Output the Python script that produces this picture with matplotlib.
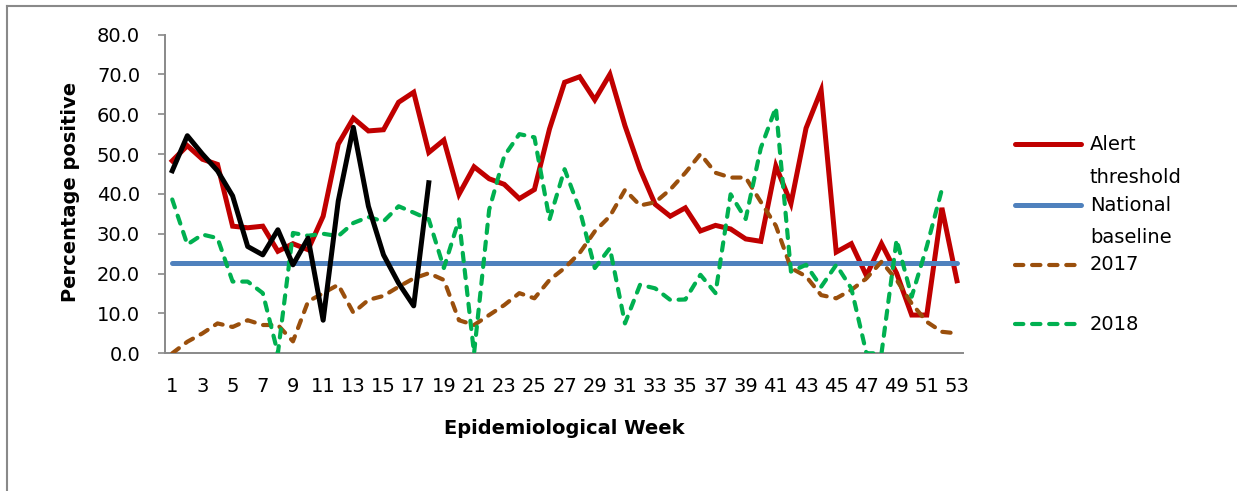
import matplotlib
matplotlib.use("Agg")
import matplotlib.pyplot as plt
from matplotlib.lines import Line2D
import numpy as np

plt.rcParams['font.family'] = ['DejaVu Sans']

weeks = list(range(1, 54))
alert_threshold = [48.3, 52.1, 48.7, 47.4, 31.9, 31.5, 31.9, 25.6, 27.5, 26.0,
                   34.4, 52.5, 59.0, 55.8, 56.1, 63.0, 65.5, 50.4, 53.5, 39.9,
                   46.8, 43.8, 42.4, 38.8, 41.1, 56.3, 68.0, 69.4, 63.6, 70.0,
                   57.1, 46.2, 37.4, 34.4, 36.5, 30.7, 32.1, 31.2, 28.7, 28.1,
                   47.0, 37.6, 56.5, 66.0, 25.4, 27.5, 19.5, 27.5, 20.1, 9.6,
                   9.6, 36.5, 18.2]
national_baseline = [22.6] * 53
y2017 = [0.0, 2.9, 5.0, 7.5, 6.6, 8.3, 7.1, 7.1, 3.0, 13.0,
         15.1, 17.2, 10.2, 13.4, 14.4, 16.7, 18.8, 20.1, 18.4, 8.3,
         7.1, 9.6, 12.1, 15.1, 13.8, 18.4, 21.4, 25.2, 30.6, 34.4,
         41.0, 37.1, 37.9, 41.1, 45.3, 50.0, 45.3, 44.1, 44.1, 38.0,
         32.0, 21.4, 19.3, 14.6, 13.8, 15.9, 18.8, 23.0, 18.4, 12.5,
         7.9, 5.4, 5.0]
y2018 = [38.6, 27.3, 29.8, 28.9, 18.0, 18.0, 15.1, 0.0, 30.2, 29.5,
         30.0, 29.4, 32.7, 34.2, 33.1, 36.9, 35.3, 33.6, 21.4, 33.6,
         0.0, 36.0, 49.5, 55.0, 54.2, 33.6, 46.2, 36.0, 21.4, 26.4,
         7.5, 17.2, 16.3, 13.4, 13.5, 19.7, 15.1, 39.9, 33.7, 51.5,
         61.7, 20.5, 22.2, 16.7, 22.2, 16.3, 0.0, 0.0, 28.5, 14.2,
         26.8, 41.1]
y2019 = [45.8, 54.6, 50.0, 45.8, 39.5, 26.8, 24.7, 31.0, 22.2, 28.9,
         8.3, 38.2, 56.7, 36.9, 24.7, 17.6, 11.9, 42.8]

legend_labels = ["Alert\nthreshold", "National\nbaseline", "2017", "2018"]
xtick_labels = [str(w) for w in range(1, 54, 2)]
ytick_values = [0, 10, 20, 30, 40, 50, 60, 70, 80]

C_RED = "#C00000"
C_BLUE = "#4F81BD"
C_BROWN = "#9A4F0C"
C_GREEN = "#00B050"
GRAY = "#898989"

W, H = 1237, 491
fig = plt.figure(figsize=(W / 100, H / 100), dpi=100)
ax = fig.add_axes([165 / W, 1 - 353.3 / H, (963 - 165) / W, (353.3 - 34.5) / H])

lw_solid = 3.6
lw_dash = 3.0
dash = (0, (2.0, 2.1))

ax.plot(weeks, alert_threshold, color=C_RED, lw=lw_solid, solid_joinstyle='miter', zorder=3)
ax.plot(weeks, national_baseline, color=C_BLUE, lw=lw_solid, solid_capstyle='round', zorder=3)
ax.plot(weeks, y2017, color=C_BROWN, lw=lw_dash, ls=dash, dash_capstyle='round', zorder=3)
ax.plot(weeks[:len(y2018)], y2018, color=C_GREEN, lw=lw_dash, ls=dash, dash_capstyle='round', zorder=3)
ax.plot(weeks[:len(y2019)], y2019, color="black", lw=lw_solid, zorder=3)

ax.set_xlim(0.52, 53.4)
ax.set_ylim(0, 80)
ax.set_xticks(range(1, 54, 2))
ax.set_xticklabels(xtick_labels, fontsize=14)
ax.set_yticks(ytick_values)
ax.set_yticklabels([f"{v:.1f}" for v in ytick_values], fontsize=14)
ax.tick_params(axis='x', length=0, pad=17)
ax.tick_params(axis='y', length=5, width=1.2, color=GRAY, pad=13)
for s in ['top', 'right']:
    ax.spines[s].set_visible(False)
for s in ['left', 'bottom']:
    ax.spines[s].set_color(GRAY)
    ax.spines[s].set_linewidth(1.4)
ax.spines['bottom'].set_bounds(0.52, 53.4)

fig.text(71 / W, 1 - 192 / H, "Percentage positive", rotation=90, fontsize=14,
         fontweight='bold', ha='center', va='center')
fig.text(564.5 / W, 1 - 428 / H, "Epidemiological Week", fontsize=14,
         fontweight='bold', ha='center', va='center')

# legend (manual, Excel style: handle aligned with first text line)
leg_styles = [dict(color=C_RED, lw=lw_solid, solid_capstyle='round'),
              dict(color=C_BLUE, lw=lw_solid, solid_capstyle='round'),
              dict(color=C_BROWN, lw=lw_dash, ls=dash, dash_capstyle='round'),
              dict(color=C_GREEN, lw=lw_dash, ls=dash, dash_capstyle='round')]
leg_y = [144, 205, 265, 324]
for lab, st, yy in zip(legend_labels, leg_styles, leg_y):
    fig.add_artist(Line2D([1015 / W, 1081 / W], [1 - yy / H, 1 - yy / H], **st))
    for i, line in enumerate(lab.split("\n")):
        fig.text(1090 / W, 1 - (yy + i * 33) / H, line, fontsize=14,
                 ha='left', va='center')

# outer chart border (top and left visible)
fig.add_artist(Line2D([6.5 / W, 1.0], [1 - 5.5 / H, 1 - 5.5 / H], color=GRAY, lw=1.5))
fig.add_artist(Line2D([6.5 / W, 6.5 / W], [0, 1 - 5.5 / H], color=GRAY, lw=1.5))

fig.savefig("out.png", dpi=100)
